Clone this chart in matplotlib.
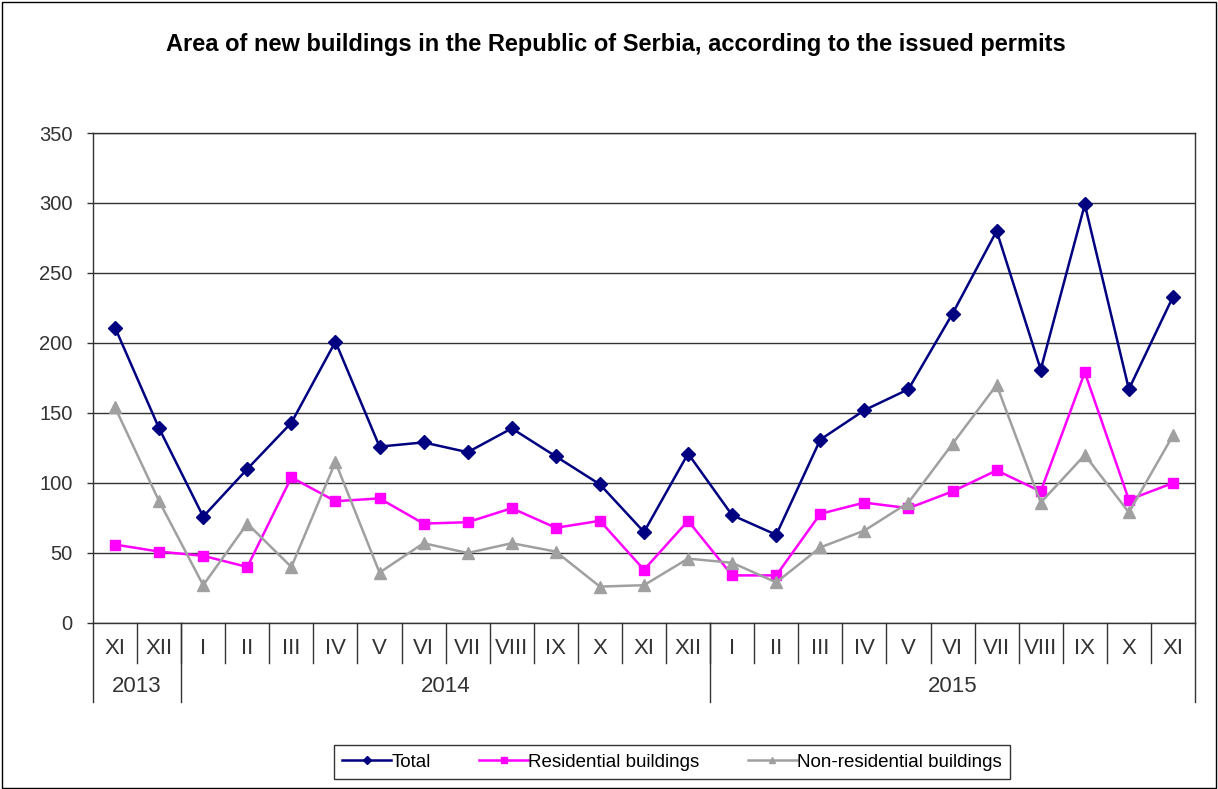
import numpy as np
import matplotlib as mpl
mpl.use('Agg')
import matplotlib.pyplot as plt
from matplotlib.lines import Line2D
from matplotlib.patches import Rectangle
import matplotlib.transforms as mtransforms

plt.rcParams['font.family'] = ['Liberation Sans', 'DejaVu Sans']

# ----------------------------------------------------------------------
# --- data

months = ['XI', 'XII', 'I', 'II', 'III', 'IV', 'V', 'VI', 'VII', 'VIII', 'IX', 'X', 'XI', 'XII',
          'I', 'II', 'III', 'IV', 'V', 'VI', 'VII', 'VIII', 'IX', 'X', 'XI']
years = ['2013', '2014', '2015']
year_counts = [2, 12, 11]

total = [211, 139, 76, 110, 143, 201, 126, 129, 122, 139, 119, 99, 65, 121,
         77, 63, 131, 152, 167, 221, 280, 181, 299, 167, 233]
residential = [56, 51, 48, 40, 104, 87, 89, 71, 72, 82, 68, 73, 38, 73,
               34, 34, 78, 86, 82, 94, 109, 94, 179, 88, 100]
non_residential = [154, 87, 27, 71, 40, 115, 36, 57, 50, 57, 51, 26, 27, 46,
                   43, 29, 54, 66, 86, 128, 170, 86, 120, 79, 134]

title = 'Area of new buildings in the Republic of Serbia, according to the issued permits'

# ----------------------------------------------------------------------

W, H = 1218, 789
fig = plt.figure(figsize=(W/100, H/100), dpi=100)
fig.patches.append(Rectangle((2/W, 1/H), (W-4)/W, (H-3)/H, transform=fig.transFigure,
                             fill=False, edgecolor='black', linewidth=1.0))

ax = fig.add_axes([93/W, 1-623/H, (1195-93)/W, 490/H])

x = np.arange(len(months))

series = [
    (total, 'Total', '#000080', 'D', 7),
    (residential, 'Residential buildings', '#FF00FF', 's', 7),
    (non_residential, 'Non-residential buildings', '#A0A0A0', '^', 8),
]
for vals, lab, c, m, ms in series:
    ax.plot(x, vals, color=c, marker=m, markersize=ms, linewidth=1.8, label=lab, zorder=3)

ax.set_xlim(-0.5, len(months)-0.5)
ax.set_ylim(0, 350)
ax.set_yticks(np.arange(0, 351, 50))
ax.yaxis.grid(True, color='#333333', linewidth=1.0)
ax.set_axisbelow(True)
ax.tick_params(axis='y', labelsize=14.5, length=4.5, width=1, color='#333333', pad=10, labelcolor='#333333')
for s in ax.spines.values():
    s.set_color('#333333')
    s.set_linewidth(1.0)

# --- category axis: months, then years
ax.set_xticks([])
trans = mtransforms.blended_transform_factory(ax.transData, ax.transAxes)
for i, m in enumerate(months):
    ax.text(i, -25/490, m, transform=trans, ha='center', va='center', fontsize=16, color='#333333')
for b in np.arange(0.5, len(months)-1, 1.0):
    ax.plot([b, b], [0, -40/490], transform=trans, color='#333333', linewidth=1.0, clip_on=False)

edges = np.concatenate([[0], np.cumsum(year_counts)]) - 0.5
for e in edges:
    ax.plot([e, e], [0, -79/490], transform=trans, color='#333333', linewidth=1.0, clip_on=False)
for y, a, b in zip(years, edges[:-1], edges[1:]):
    ax.text((a+b)/2, -63/490, y, transform=trans, ha='center', va='center', fontsize=16, color='#333333')

fig.text(616/W, 1-44/H, title, ha='center', va='center', fontsize=17, fontweight='bold')

handles = [Line2D([], [], color=c, marker=m, markersize=4.5, linewidth=1.8) for _, _, c, m, _ in series]
leg = fig.legend(handles, [s[1] for s in series], ncol=3, loc='center', bbox_to_anchor=(672/W, 1-762/H),
                 frameon=True, fancybox=False, edgecolor='black', fontsize=13.5, handlelength=2.6,
                 handletextpad=0.0, columnspacing=2.6, borderpad=0.45, borderaxespad=0)
leg.get_frame().set_linewidth(1.0)

fig.savefig('out.png', dpi=100)
